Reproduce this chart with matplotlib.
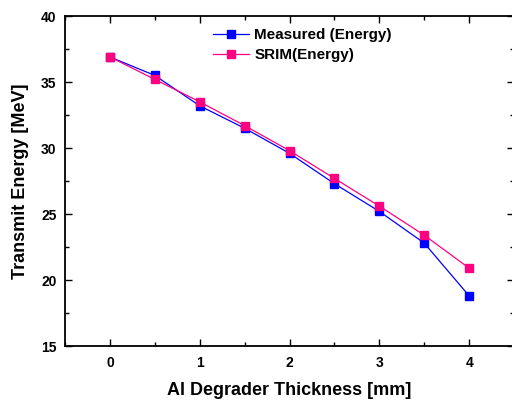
import numpy as np
import matplotlib
matplotlib.use("Agg")
import matplotlib.pyplot as plt
from matplotlib.ticker import MultipleLocator

plt.rcParams['font.family'] = ['Liberation Sans', 'DejaVu Sans']
plt.rcParams['font.weight'] = 'bold'

thickness = [0, 0.5, 1, 1.5, 2, 2.5, 3, 3.5, 4]
measured = [36.9, 35.5, 33.2, 31.5, 29.6, 27.3, 25.2, 22.8, 18.8]
srim = [36.9, 35.2, 33.5, 31.7, 29.8, 27.7, 25.6, 23.4, 20.9]

fig = plt.figure(figsize=(5.12, 4.01), dpi=100)
ax = fig.add_axes([0.127, 0.137, 0.877, 0.823])

ax.plot(thickness, measured, color='#0000FF', lw=0.9, marker='s', ms=6,
        mec='#0000FF', label='Measured (Energy)')
ax.plot(thickness, srim, color='#FF0080', lw=0.9, marker='s', ms=6,
        mec='#FF0080', label='SRIM(Energy)')

ax.set_xlim(-0.5, 4.5)
ax.set_ylim(15, 40)
ax.xaxis.set_major_locator(MultipleLocator(1))
ax.xaxis.set_minor_locator(MultipleLocator(0.5))
ax.yaxis.set_major_locator(MultipleLocator(5))
ax.yaxis.set_minor_locator(MultipleLocator(2.5))
ax.tick_params(which='both', direction='in', top=True, right=True, width=1)
ax.tick_params(which='major', length=5, labelsize=10)
ax.tick_params(axis='x', which='major', pad=7)
ax.tick_params(axis='y', which='major', pad=6)
ax.tick_params(which='minor', length=3)
for s in ax.spines.values():
    s.set_linewidth(1.3)

ax.set_xlabel('Al Degrader Thickness [mm]', fontsize=13, fontweight='bold', labelpad=9)
ax.set_ylabel('Transmit Energy [MeV]', fontsize=13, fontweight='bold', labelpad=9)

ax.legend(loc='upper left', bbox_to_anchor=(0.33, 0.963), frameon=False,
          fontsize=11, handlelength=2.35, handletextpad=0.35, borderpad=0,
          borderaxespad=0, labelspacing=0.4, markerscale=0.85)

fig.savefig('out.png', dpi=100)
